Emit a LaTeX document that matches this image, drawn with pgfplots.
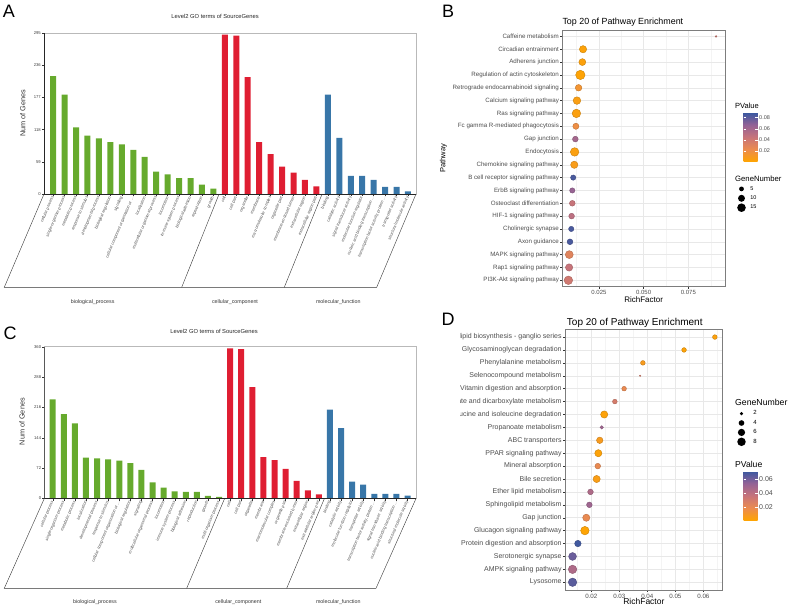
\documentclass[border=0pt]{standalone}
\usepackage{pgfplots}
\pgfplotsset{compat=1.18}
\usepackage{pgfplotstable}
\usepackage{fontspec}
\setmainfont{Liberation Sans}

\definecolor{goGreen}{RGB}{102,170,45}
\definecolor{goRed}{RGB}{223,30,50}
\definecolor{goBlue}{RGB}{56,118,168}
\definecolor{gg30}{RGB}{77,77,77}
\definecolor{gg20}{RGB}{51,51,51}
\definecolor{gg92}{RGB}{232,232,232}
\definecolor{gg96}{RGB}{244,244,244}
\definecolor{ggborder}{RGB}{125,125,125}
\newcommand{\el}{\ldots}

\pgfplotsset{
  colormap={pv}{rgb255(0cm)=(255,165,0); rgb255(1cm)=(236,140,78); rgb255(2cm)=(200,116,122); rgb255(3cm)=(148,98,150); rgb255(4cm)=(58,88,160)},
  goaxis/.style={
    scale only axis, anchor=south west, ymin=0,
    axis line style={gray!55, line width=0.5pt},
    tick align=outside, xtick pos=left, ytick pos=left,
    major tick length=2pt,
    tick style={black!80, line width=0.4pt},
    yticklabel style={font=\fontsize{4.2}{5}\selectfont, text=black!75, inner sep=1pt},
    xticklabel style={font=\fontsize{4}{5}\selectfont, text=black!70, rotate=67, anchor=east, inner sep=0.6pt},
  },
  ggaxis/.style={
    scale only axis, anchor=south west, y dir=reverse,
    ytick={1,2,3,4,5,6,7,8,9,10,11,12,13,14,15,16,17,18,19,20},
    scaled x ticks=false, scaled y ticks=false,
    grid=both, major grid style={gg92, line width=0.5pt}, minor grid style={gg96, line width=0.3pt},
    axis line style={ggborder, line width=0.5pt},
    tick align=outside, xtick pos=left, ytick pos=left,
    major tick length=2pt, minor tick length=0pt,
    tick style={gg20, line width=0.4pt},
    colormap name=pv,
  },
  dotimg/.style={legend image code/.code={\path[draw=none,fill=none] (0pt,-4.7pt) rectangle (9pt,4.7pt); \fill[black,draw=none] (4.5pt,0pt) circle (#1);}},
}

\pgfplotstableread{
id rf n p
1 0.0905 1 0.040
2 0.0161 11 0.003
3 0.0157 10 0.004
4 0.0146 18 0.002
5 0.0136 9 0.015
6 0.0127 12 0.006
7 0.0124 15 0.005
8 0.0121 8 0.020
9 0.0118 7 0.060
10 0.0114 15 0.005
11 0.0112 11 0.008
12 0.0106 6 0.085
13 0.0101 6 0.065
14 0.0101 7 0.045
15 0.0097 7 0.050
16 0.0095 6 0.085
17 0.0088 7 0.085
18 0.0084 13 0.030
19 0.0083 11 0.045
20 0.0079 15 0.040
}\tabB

\pgfplotstableread{
id rf n p
1 0.0641 3 0.004
2 0.0531 3 0.003
3 0.0384 3 0.008
4 0.0374 1 0.030
5 0.0317 3 0.020
6 0.0284 3 0.030
7 0.0246 6 0.003
8 0.0237 2 0.050
9 0.0230 5 0.008
10 0.0225 6 0.003
11 0.0223 4 0.020
12 0.0219 6 0.006
13 0.0197 4 0.045
14 0.0193 4 0.050
15 0.0182 6 0.020
16 0.0177 8 0.002
17 0.0152 5 0.070
18 0.0133 7 0.062
19 0.0133 8 0.045
20 0.0133 8 0.065
}\tabD

\begin{document}
\begin{tikzpicture}
\path[use as bounding box] (0pt,0pt) rectangle (790pt,-608pt);

% ---------------- Panel A ----------------
\begin{axis}[goaxis,
  at={(44pt,-194pt)}, width=372pt, height=161pt,
  xmin=-0.8, xmax=31.7, ymax=295,
  ytick={0,59,118,177,236,295}, yticklabels={0,59,118,177,236,295},
  xtick={0,1,2,3,4,5,6,7,8,9,10,11,12,13,14,15,16,17,18,19,20,21,22,23,24,25,26,27,28,29,30,31},
  xticklabels={cellular process, single-organism process, metabolic process, response to stimulus, developmental process, biological regulation, signaling, {cellular component organization or \el}, localization, multicellular organismal process, locomotion, immune system process, biological adhesion, reproduction, growth, cell, cell part, organelle, membrane, macromolecular complex, organelle part, membrane-enclosed lumen, extracellular region, extracellular region part, binding, catalytic activity, signal transducer activity, molecular function regulator, {nucleic acid binding transcription \el}, {transcription factor activity, protein \el}, transporter activity, structural molecule activity},
  title={Level2 GO terms of SourceGenes},
  every axis title/.style={at={(axis description cs:0.46,1.101)}, anchor=center, font=\fontsize{5.8}{7}\selectfont, text=black!85},
  ylabel={Num of Genes},
  every axis y label/.style={at={(axis description cs:-0.0573,0.503)}, rotate=90, anchor=center, font=\fontsize{7.3}{8}\selectfont, text=black!80},
]
\addplot[ybar, bar width=6pt, bar shift=0pt, fill=goGreen, draw=none] coordinates {
(0,216) (1,182) (2,122) (3,107) (4,102) (5,95) (6,91) (7,81) (8,68) (9,41) (10,36) (11,29) (12,29) (13,17) (14,10)};
\addplot[ybar, bar width=6pt, bar shift=0pt, fill=goRed, draw=none] coordinates {
(15,292) (16,290) (17,214) (18,95) (19,73) (20,50) (21,39) (22,26) (23,14)};
\addplot[ybar, bar width=6pt, bar shift=0pt, fill=goBlue, draw=none] coordinates {
(24,182) (25,103) (26,33) (27,33) (28,26) (29,13) (30,13) (31,5)};
\draw[black!85, line width=0.5pt] (axis description cs:0,0) -- (axis description cs:0,1);
\draw[black!85, line width=0.5pt] (axis description cs:0,0) -- (axis description cs:1,0);
\end{axis}
\draw[black!80, line width=0.4pt] (44pt,-194pt) -- (4.3pt,-287.3pt) -- (376.7pt,-287.3pt) -- (416pt,-194pt);
\draw[black!80, line width=0.4pt] (219.1pt,-194pt) -- (181.7pt,-287.3pt);
\draw[black!80, line width=0.4pt] (322.1pt,-194pt) -- (284.3pt,-287.3pt);
\node[font=\fontsize{5.3}{6}\selectfont, text=black!80] at (92.7pt,-301.7pt) {biological\_process};
\node[font=\fontsize{5.3}{6}\selectfont, text=black!80] at (235pt,-301.7pt) {cellular\_component};
\node[font=\fontsize{5.3}{6}\selectfont, text=black!80] at (338.3pt,-301.7pt) {molecular\_function};
\node[font=\fontsize{18}{20}\selectfont] at (9pt,-11.7pt) {A};

% ---------------- Panel C ----------------
\begin{axis}[goaxis,
  at={(44.3pt,-498.5pt)}, width=371.7pt, height=151.8pt,
  xmin=-0.76, xmax=32.76, ymax=360,
  ytick={0,72,144,216,288,360}, yticklabels={0,72,144,216,288,360},
  xtick={0,1,2,3,4,5,6,7,8,9,10,11,12,13,14,15,16,17,18,19,20,21,22,23,24,25,26,27,28,29,30,31,32},
  xticklabels={cellular process, single-organism process, metabolic process, localization, developmental process, response to stimulus, {cellular component organization or \el}, biological regulation, signaling, multicellular organismal process, locomotion, immune system process, biological adhesion, reproduction, growth, multi-organism process, cell, cell part, organelle, membrane, macromolecular complex, organelle part, membrane-enclosed lumen, extracellular region, extracellular region part, binding, catalytic activity, molecular function regulator, transporter activity, {transcription factor activity, protein \el}, signal transducer activity, {nucleic acid binding transcription \el}, structural molecule activity},
  title={Level2 GO terms of SourceGenes},
  every axis title/.style={at={(axis description cs:0.4566,1.1034)}, anchor=center, font=\fontsize{5.8}{7}\selectfont, text=black!85},
  ylabel={Num of Genes},
  every axis y label/.style={at={(axis description cs:-0.06,0.506)}, rotate=90, anchor=center, font=\fontsize{7.3}{8}\selectfont, text=black!80},
]
\addplot[ybar, bar width=6pt, bar shift=0pt, fill=goGreen, draw=none] coordinates {
(0,235) (1,200) (2,178) (3,97) (4,95) (5,93) (6,90) (7,84) (8,68) (9,38) (10,26) (11,17) (12,16) (13,16) (14,6) (15,4)};
\addplot[ybar, bar width=6pt, bar shift=0pt, fill=goRed, draw=none] coordinates {
(16,356) (17,354) (18,264) (19,98) (20,91) (21,70) (22,42) (23,19) (24,10)};
\addplot[ybar, bar width=6pt, bar shift=0pt, fill=goBlue, draw=none] coordinates {
(25,211) (26,167) (27,40) (28,33) (29,11) (30,11) (31,11) (32,7)};
\draw[black!85, line width=0.5pt] (axis description cs:0,0) -- (axis description cs:0,1);
\draw[black!85, line width=0.5pt] (axis description cs:0,0) -- (axis description cs:1,0);
\end{axis}
\draw[black!80, line width=0.4pt] (44.3pt,-498.5pt) -- (4.3pt,-588.3pt) -- (376pt,-588.3pt) -- (416pt,-498.5pt);
\draw[black!80, line width=0.4pt] (224.6pt,-498.5pt) -- (186.7pt,-588.3pt);
\draw[black!80, line width=0.4pt] (324.4pt,-498.5pt) -- (286.7pt,-588.3pt);
\node[font=\fontsize{5.3}{6}\selectfont, text=black!80] at (95pt,-602.3pt) {biological\_process};
\node[font=\fontsize{5.3}{6}\selectfont, text=black!80] at (238.3pt,-602.3pt) {cellular\_component};
\node[font=\fontsize{5.3}{6}\selectfont, text=black!80] at (338.3pt,-602.3pt) {molecular\_function};
\node[font=\fontsize{18}{20}\selectfont] at (10pt,-333.3pt) {C};

% ---------------- Panel B ----------------
\begin{axis}[ggaxis,
  at={(562.3pt,-286.7pt)}, width=162.7pt, height=256.7pt,
  xmin=0.0045, xmax=0.0955, ymin=0.5, ymax=20.5,
  xtick={0.025,0.05,0.075}, xticklabels={0.025,0.050,0.075},
  minor xtick={0.0125,0.0375,0.0625,0.0875},
  yticklabels={Caffeine metabolism, Circadian entrainment, Adherens junction, Regulation of actin cytoskeleton, Retrograde endocannabinoid signaling, Calcium signaling pathway, Ras signaling pathway, Fc gamma R-mediated phagocytosis, Gap junction, Endocytosis, Chemokine signaling pathway, B cell receptor signaling pathway, ErbB signaling pathway, Osteoclast differentiation, HIF-1 signaling pathway, Cholinergic synapse, Axon guidance, MAPK signaling pathway, Rap1 signaling pathway, PI3K-Akt signaling pathway},
  yticklabel style={font=\fontsize{6.2}{7}\selectfont, text=gg30, inner sep=1.2pt},
  xticklabel style={font=\fontsize{6}{7}\selectfont, text=gg30, inner sep=1.5pt},
  title={Top 20 of Pathway Enrichment},
  every axis title/.style={at={(axis description cs:0,1.032)}, anchor=west, inner sep=0pt, font=\fontsize{8.9}{10}\selectfont},
  xlabel={RichFactor},
  every axis x label/.style={at={(axis description cs:0.5,-0.052)}, anchor=center, inner sep=0pt, font=\fontsize{8}{9}\selectfont},
  ylabel={Pathway},
  every axis y label/.style={at={(axis description cs:-0.731,0.501)}, rotate=90, anchor=center, inner sep=0pt, font=\fontsize{7.5}{8}\selectfont},
  point meta min=0.0005, point meta max=0.089,
  colorbar,
  colorbar style={scale only axis, width=14pt, height=49pt,
    at={(parent axis.north east)}, anchor=north west, xshift=10pt, yshift=-82.7pt,
    axis line style={draw=none}, scaled y ticks=false,
    ytick={0.02,0.04,0.06,0.08}, yticklabels={0.02,0.04,0.06,0.08},
    yticklabel style={font=\fontsize{5.5}{6}\selectfont, text=gg30, inner sep=1.5pt},
    tick align=inside, major tick length=2.5pt, tick style={white, line width=0.4pt}},
  legend style={at={(1.0725,0.4001)}, anchor=north west, draw=none, fill=none, inner sep=0pt,
    font=\fontsize{5.5}{6}\selectfont, nodes={inner sep=0.3pt}, column sep=4pt},
  legend cell align=left,
]
\addplot[scatter, only marks, mark=*, forget plot, point meta=explicit,
  visualization depends on={0.59*sqrt(3.6*\thisrow{n}-1.4) \as \rad},
  scatter/@pre marker code/.append style={/tikz/mark size=\rad}]
  table[x=rf, y=id, meta=p] {\tabB};
\addlegendimage{dotimg=2.40pt}
\addlegendentry{5}
\addlegendimage{dotimg=3.47pt}
\addlegendentry{10}
\addlegendimage{dotimg=4.28pt}
\addlegendentry{15}
\end{axis}
\node[anchor=west, inner sep=0pt, font=\fontsize{7.5}{8}\selectfont] at (735pt,-106pt) {PValue};
\node[anchor=west, inner sep=0pt, font=\fontsize{7.7}{8}\selectfont] at (735pt,-178.3pt) {GeneNumber};
\node[font=\fontsize{18}{20}\selectfont] at (448pt,-11.7pt) {B};

% ---------------- Panel D ----------------
\begin{scope}
\clip (460.5pt,-300pt) rectangle (790pt,-608pt);
\begin{axis}[ggaxis,
  at={(565pt,-590pt)}, width=157.7pt, height=260.7pt,
  xmin=0.0106, xmax=0.0669, ymin=0.4, ymax=20.6,
  xtick={0.02,0.03,0.04,0.05,0.06}, xticklabels={0.02,0.03,0.04,0.05,0.06},
  minor xtick={0.015,0.025,0.035,0.045,0.055,0.065},
  yticklabels={Glycosphingolipid biosynthesis - ganglio series, Glycosaminoglycan degradation, Phenylalanine metabolism, Selenocompound metabolism, Vitamin digestion and absorption, Glyoxylate and dicarboxylate metabolism, {Valine, leucine and isoleucine degradation}, Propanoate metabolism, ABC transporters, PPAR signaling pathway, Mineral absorption, Bile secretion, Ether lipid metabolism, Sphingolipid metabolism, Gap junction, Glucagon signaling pathway, Protein digestion and absorption, Serotonergic synapse, AMPK signaling pathway, Lysosome},
  yticklabel style={font=\fontsize{7}{8}\selectfont, text=gg30, inner sep=1.2pt},
  xticklabel style={font=\fontsize{6.2}{7}\selectfont, text=gg30, inner sep=1.5pt},
  title={Top 20 of Pathway Enrichment},
  every axis title/.style={at={(axis description cs:0.011,1.023)}, anchor=west, inner sep=0pt, font=\fontsize{10}{11}\selectfont},
  xlabel={RichFactor},
  every axis x label/.style={at={(axis description cs:0.5,-0.045)}, anchor=center, inner sep=0pt, font=\fontsize{8.5}{9}\selectfont},
  point meta min=0.001, point meta max=0.0713,
  colorbar,
  colorbar style={scale only axis, width=14pt, height=49.7pt,
    at={(parent axis.north east)}, anchor=north west, xshift=12.3pt, yshift=-141.7pt,
    axis line style={draw=none}, scaled y ticks=false,
    ytick={0.02,0.04,0.06}, yticklabels={0.02,0.04,0.06},
    yticklabel style={font=\fontsize{7}{8}\selectfont, text=gg30, inner sep=1.5pt},
    tick align=inside, major tick length=2.5pt, tick style={white, line width=0.4pt}},
  legend style={at={(1.0894,0.6954)}, anchor=north west, draw=none, fill=none, inner sep=0pt,
    font=\fontsize{6}{7}\selectfont, nodes={inner sep=0.3pt}, column sep=7pt},
  legend cell align=left,
]
\addplot[scatter, only marks, mark=*, forget plot, point meta=explicit,
  visualization depends on={0.58*sqrt(7.4*\thisrow{n}-5.8) \as \rad},
  scatter/@pre marker code/.append style={/tikz/mark size=\rad}]
  table[x=rf, y=id, meta=p] {\tabD};
\addlegendimage{dotimg=1.74pt}
\addlegendentry{2}
\addlegendimage{dotimg=2.83pt}
\addlegendentry{4}
\addlegendimage{dotimg=3.60pt}
\addlegendentry{6}
\addlegendimage{dotimg=4.24pt}
\addlegendentry{8}
\end{axis}
\node[anchor=west, inner sep=0pt, font=\fontsize{8.6}{9}\selectfont] at (735pt,-464.3pt) {PValue};
\node[anchor=west, inner sep=0pt, font=\fontsize{8.7}{9}\selectfont] at (735pt,-402.3pt) {GeneNumber};
\end{scope}
\node[font=\fontsize{18}{20}\selectfont] at (448pt,-319.7pt) {D};
\end{tikzpicture}
\end{document}
